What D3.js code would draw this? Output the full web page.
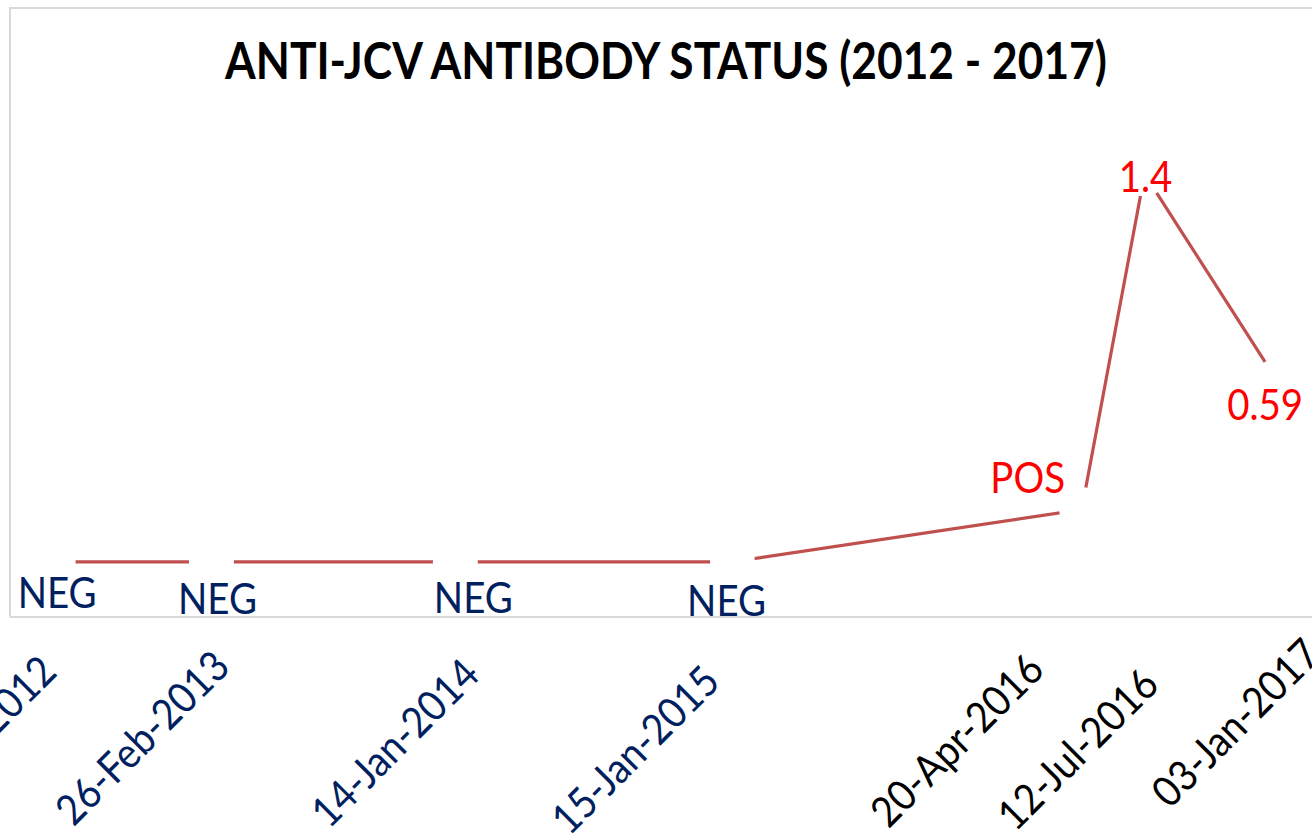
<!DOCTYPE html>
<html>
<head>
<meta charset="utf-8">
<script src="https://cdn.jsdelivr.net/npm/d3@7"></script>
<style>
  html, body { margin: 0; padding: 0; background: #ffffff; overflow: hidden; }
  svg { display: block; }
</style>
</head>
<body>
<svg id="chart" width="1312" height="833"></svg>
<script>
// ---------------- DATA ----------------
const sampleDates = ["2012-08-01", "2013-02-26", "2014-01-14", "2015-01-15", "2016-04-20", "2016-07-12", "2017-01-03"];
const plotValues  = [-0.12, -0.12, -0.12, -0.12, 0.085, 1.4, 0.59];
const statusLabels = ["NEG", "NEG", "NEG", "NEG", "POS", "1.4", "0.59"];
const titleText = "ANTI-JCV ANTIBODY STATUS (2012 - 2017)";

// ---------------- LAYOUT / STYLE ----------------
const W = 1312, H = 833;
const plot = { left: 10, top: 8, bottom: 617, right: 1318 };
const FONT = "Lato, 'Open Sans', sans-serif";
const lineColor = "#C0504D";
const navy = "#002060";
const red = "#FF0000";
const tickColors = [navy, navy, navy, navy, "#000000", "#000000", "#000000"];
const labelColors = [navy, navy, navy, navy, red, red, red];
// data-label offsets relative to each point (dx, dy of baseline centre)
const labelOffsets = [[4, 46], [6, 52], [18, 51], [-6, 54], [-54, -17], [1, 18], [-12, 39]];
// tick-label anchor offsets relative to each tick (dx, dy below axis)
const tickOffsets = [[5, 57], [20, 52], [26, 60], [-11, 67], [-36, 55], [16, 70], [45, 40]];
const labelStretch = 1.1, titleStretch = 1.15;

const parse = d3.timeParse("%Y-%m-%d");
const fmt = d3.timeFormat("%d-%b-%Y");
const data = sampleDates.map((d, i) => ({ date: parse(d), v: plotValues[i], label: statusLabels[i], i }));

const svg = d3.select("#chart");

// measure helper to fit font sizes
function fitSize(text, target, weight) {
  const t = svg.append("text").attr("font-family", FONT).attr("font-size", 100)
    .attr("font-weight", weight || "normal").text(text);
  const w = t.node().getComputedTextLength();
  t.remove();
  return 100 * target / w;
}
const labelSize = fitSize("NEG", 79);
const titleSize = fitSize(titleText, 882, "bold");

// scales
const x = d3.scaleTime()
  .domain([parse("2012-06-05"), parse("2017-02-26")])
  .range([plot.left, plot.right]);
const y = d3.scaleLinear()
  .domain([-0.336, 2.0])
  .range([plot.bottom, 21]);

// plot border (light gray)
svg.append("path")
  .attr("d", `M${W + 5},${plot.top} H${plot.left} V${plot.bottom}`)
  .attr("fill", "none").attr("stroke", "#d9d9d9").attr("stroke-width", 2);

// x axis
const xAxis = d3.axisBottom(x)
  .tickValues(data.map(d => d.date))
  .tickFormat(fmt)
  .tickSize(0)
  .tickPadding(0);
const gx = svg.append("g").attr("transform", `translate(0,${plot.bottom})`).call(xAxis);
gx.select(".domain").attr("stroke", "#d9d9d9").attr("stroke-width", 2)
  .attr("d", `M${plot.left},0H${W + 5}`);
gx.selectAll(".tick text")
  .attr("font-family", FONT)
  .attr("font-size", labelSize)
  .attr("fill", (d, i) => tickColors[i])
  .attr("text-anchor", "end")
  .attr("dy", 0)
  .attr("y", 0)
  .attr("transform", (d, i) => `translate(${tickOffsets[i][0]},${tickOffsets[i][1]}) rotate(-45) scale(1,${labelStretch})`);

// title
svg.append("text")
  .attr("transform", `translate(666,79) scale(1,${titleStretch})`)
  .attr("text-anchor", "middle")
  .attr("font-family", FONT).attr("font-weight", "bold")
  .attr("font-size", titleSize)
  .attr("fill", "#000")
  .text(titleText);

// line
const line = d3.line().x(d => x(d.date)).y(d => y(d.v));
svg.append("path").datum(data)
  .attr("d", line)
  .attr("fill", "none")
  .attr("stroke", lineColor)
  .attr("stroke-width", 3.2);

// white markers (create gaps in the line around each point)
svg.append("g").selectAll("circle").data(data).join("circle")
  .attr("cx", d => x(d.date)).attr("cy", d => y(d.v))
  .attr("r", 22.5).attr("fill", "#ffffff");

// data labels
svg.append("g").selectAll("text").data(data).join("text")
  .attr("transform", d => `translate(${x(d.date) + labelOffsets[d.i][0]},${y(d.v) + labelOffsets[d.i][1]}) scale(1,${labelStretch})`)
  .attr("text-anchor", "middle")
  .attr("font-family", FONT)
  .attr("font-size", labelSize)
  .attr("fill", d => labelColors[d.i])
  .text(d => d.label);
</script>
</body>
</html>
